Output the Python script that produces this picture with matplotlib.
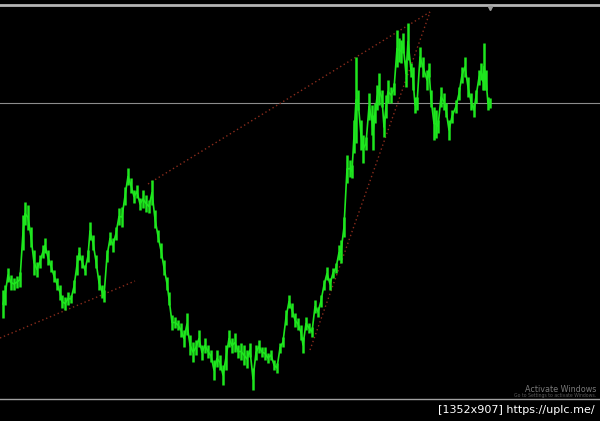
import numpy as np
import matplotlib.pyplot as plt

# bar positions and high / low prices (price units = pixel height)
bar_x = [3, 5, 8, 11, 14, 17, 20, 23, 25, 28, 31, 34, 37, 40, 43, 45, 48, 51, 54, 57,
         60, 62, 65, 68, 71, 74, 77, 79, 82, 85, 88, 90, 93, 96, 99, 102, 104, 107, 110, 113,
         116, 119, 122, 125, 128, 131, 134, 137, 140, 143, 146, 149, 152, 155, 158, 161, 164, 167, 169, 172,
         175, 178, 181, 184, 187, 190, 193, 196, 199, 202, 205, 208, 211, 214, 217, 220, 223, 226, 229, 232,
         235, 238, 241, 244, 247, 250, 253, 256, 259, 262, 265, 268, 271, 274, 277, 280, 283, 286, 289, 292,
         295, 298, 301, 303, 306, 309, 312, 315, 318, 321, 324, 327, 330, 333, 336, 339, 341, 344, 347, 350,
         352, 354, 356, 358, 361, 363, 366, 369, 372, 373, 375, 377, 379, 382, 384, 386, 388, 391, 394, 397,
         399, 401, 403, 406, 408, 411, 413, 415, 417, 420, 423, 427, 429, 431, 434, 436, 438, 441, 444, 446,
         449, 452, 456, 459, 462, 465, 468, 471, 474, 476, 479, 481, 483, 484, 486, 488, 490]
bar_high = [131, 136, 153, 146, 143, 145, 149, 206, 219, 216, 194, 171, 159, 166, 176, 183, 171, 161, 151, 143,
            136, 126, 124, 129, 126, 141, 166, 174, 166, 156, 171, 199, 186, 166, 146, 136, 131, 171, 189, 183,
            194, 213, 214, 234, 253, 243, 231, 236, 223, 231, 226, 221, 241, 211, 191, 178, 161, 144, 129, 106,
            104, 101, 98, 91, 108, 86, 79, 81, 91, 76, 83, 76, 71, 61, 71, 66, 56, 76, 91, 83,
            88, 76, 78, 76, 71, 78, 53, 76, 81, 74, 74, 68, 71, 61, 58, 78, 84, 111, 126, 118,
            108, 103, 96, 84, 104, 98, 94, 121, 114, 126, 141, 154, 143, 153, 158, 176, 181, 204, 266, 261,
            256, 301, 364, 331, 301, 286, 284, 328, 316, 306, 318, 336, 348, 331, 304, 326, 341, 334, 338, 391,
            383, 381, 388, 361, 398, 358, 354, 324, 324, 374, 364, 351, 358, 331, 314, 311, 301, 334, 328, 318,
            301, 311, 321, 334, 354, 364, 344, 328, 318, 331, 351, 358, 348, 378, 351, 324, 323]
bar_low = [103, 116, 139, 131, 131, 133, 134, 171, 196, 191, 174, 146, 144, 153, 163, 168, 156, 149, 139, 131,
           121, 113, 111, 116, 118, 128, 146, 161, 153, 146, 159, 181, 171, 153, 131, 123, 119, 159, 176, 169,
           181, 196, 194, 216, 236, 228, 218, 223, 211, 213, 209, 208, 216, 193, 179, 163, 146, 131, 116, 91,
           93, 91, 84, 74, 86, 66, 59, 66, 74, 61, 68, 63, 59, 41, 54, 51, 36, 51, 74, 68,
           69, 63, 61, 56, 53, 64, 31, 61, 68, 64, 61, 58, 61, 51, 48, 68, 74, 96, 113, 104,
           94, 91, 81, 68, 91, 88, 84, 108, 104, 114, 131, 141, 131, 143, 148, 161, 158, 184, 238, 244,
           243, 268, 278, 311, 271, 258, 271, 301, 286, 271, 298, 311, 316, 314, 284, 303, 318, 318, 326, 354,
           359, 358, 368, 334, 361, 344, 331, 308, 311, 354, 344, 331, 344, 314, 281, 283, 288, 314, 311, 304,
           281, 298, 308, 321, 338, 344, 324, 311, 304, 318, 336, 341, 331, 331, 331, 311, 313]

# dotted trend lines (x0, x1, price0, price1)
trend_lines = [
    ([0, 135], [83, 140]),
    ([148, 430], [237, 409]),
    ([310, 430], [71, 409]),
]
level_price = 318

x = np.array(bar_x)
hi = np.array(bar_high)
lo = np.array(bar_low)
mid = (hi + lo) / 2

fig = plt.figure(figsize=(6, 4.21), dpi=100, facecolor='black')
ax = fig.add_axes([0, 0, 1, 1])
ax.set_facecolor('black')
ax.set_xlim(0, 600)
ax.set_ylim(0, 421)
ax.axis('off')

# grey frame lines
ax.axhline(416, color='#b4b4b4', lw=2.0, zorder=2)
ax.axhline(level_price, color='#8c8c8c', lw=0.8, zorder=1)
ax.plot([490], [413], marker='v', color='#9a9a9a', ms=3, zorder=3)

for xs, ys in trend_lines:
    ax.plot(xs, ys, color='#8a2c1c', lw=1.0, ls=(0, (1, 2)), zorder=2)

# price bars
ax.vlines(x, lo, hi, color='#1ee61e', lw=1.8, zorder=4)
ax.plot(x, mid, color='#1ee61e', lw=1.2, zorder=4)

# windows watermark
ax.text(596, 32, 'Activate Windows', color='#7a7a7a', fontsize=5.8, ha='right',
        va='center', zorder=1)
ax.text(596, 26, 'Go to Settings to activate Windows.', color='#5a5a5a', fontsize=3.3,
        ha='right', va='center', zorder=1)
ax.axhspan(0, 22, color='black', zorder=5)
ax.axhline(22, color='#a0a0a0', lw=1.0, zorder=6)

ax.text(595, 11, '[1352x907] https://uplc.me/', color='white', fontsize=8,
        ha='right', va='center', zorder=7)

fig.savefig('out.png', dpi=100, facecolor='black')
